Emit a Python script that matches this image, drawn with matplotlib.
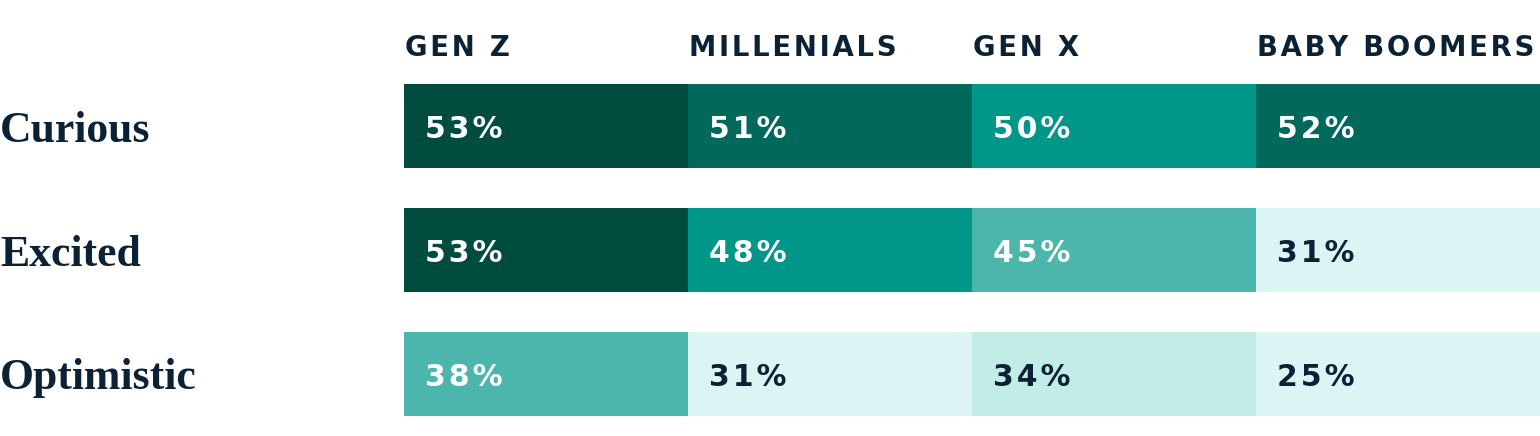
import matplotlib.pyplot as plt
from matplotlib.colors import ListedColormap, BoundaryNorm

groups = ['GEN Z', 'MILLENIALS', 'GEN X', 'BABY BOOMERS']
feelings = ['Curious', 'Excited', 'Optimistic']
values = {
    'Curious': [53, 51, 50, 52],
    'Excited': [53, 48, 45, 31],
    'Optimistic': [38, 31, 34, 25],
}

INK = '#0b2136'
shades = ['#daf5f4', '#c2ece6', '#4db6ac', '#009688', '#00695c', '#004d40']
cmap = ListedColormap(shades)
norm = BoundaryNorm([0, 32, 36, 46, 51, 53, 100], cmap.N)


def track(s, gap='\u200a'):
    # poor man's letter spacing
    return gap.join(s)


fig = plt.figure(figsize=(15.4, 4.36), dpi=100)
ax = fig.add_axes([404 / 1540, 20 / 436, 1136 / 1540, 332 / 436])
ax.axis('off')

h = 84 / 124
for r, name in enumerate(feelings):
    for c, v in enumerate(values[name]):
        color = cmap(norm(v))
        ax.barh(r, 1, left=c, height=h, color=color, linewidth=0)
        txt_color = 'white' if v >= 38 else INK
        ax.text(c + 21 / 284, r, track(f'{v}%'), ha='left', va='center_baseline',
                fontsize=21.5, fontweight='bold', color=txt_color)
    ax.text(-404 / 284, r, name, ha='left', va='center_baseline',
            fontsize=31.5, fontweight='bold', family='Liberation Serif', color=INK)

for c, g in enumerate(groups):
    ax.text(c + 1 / 284, -81 / 124, track(g), ha='left', va='center_baseline',
            fontsize=19.8, fontweight='bold', color=INK)

ax.set_xlim(0, 4)
ax.set_ylim(2 + h / 2, -h / 2)

fig.savefig('out.png', dpi=100, facecolor='white')
